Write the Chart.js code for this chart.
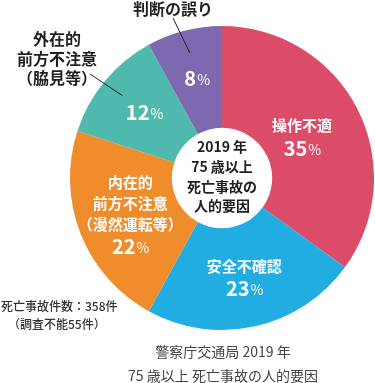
<!DOCTYPE html>
<html lang="ja">
<head>
<meta charset="utf-8">
<style>
  html, body { margin: 0; padding: 0; background: #fff; }
  #wrap { width: 375px; height: 383px; }
</style>
</head>
<body>
<div id="wrap"><canvas id="factorChart" width="375" height="383"></canvas></div>
<script src="https://cdn.jsdelivr.net/npm/chart.js@4/dist/chart.umd.min.js"></script>
<script>
// 2019年 75歳以上 死亡事故の人的要因（警察庁交通局）
const categories = ['操作不適', '安全不確認', '内在的前方不注意（漫然運転等）', '外在的前方不注意（脇見等）', '判断の誤り'];
const shares = [35, 23, 22, 12, 8];
const sliceColors = ['#dc4c69', '#22ade2', '#ef8d2c', '#50b9ae', '#7c69b0'];

// text drawn inside each slice (above the percentage)
const insideLines = [['操作不適'], ['安全不確認'], ['内在的', '前方不注意', '（漫然運転等）'], [], []];
// labels placed outside the pie with a leader line
const outsideLines = [[], [], [], ['外在的', '前方不注意', '（脇見等）'], ['判断の誤り']];
const centerLines = ['2019 年', '75 歳以上', '死亡事故の', '人的要因'];
const noteLines = ['死亡事故件数：358件', '（調査不能55件）'];
const captionLines = ['警察庁交通局 2019 年', '75 歳以上 死亡事故の人的要因'];

const JP = '"Noto Sans CJK JP", "Noto Sans", sans-serif';

const labelPlugin = {
    id: 'labelPlugin',
    afterDatasetsDraw(chart) {
        const ctx = chart.ctx;
        const arcs = chart.getDatasetMeta(0).data;
        const labelRadius = [0.59, 0.67, 0.65, 0.665, 0.67];
        const outsideAnchor = [null, null, null, { x: 57, y: 39, lx: 90, ly: 74 }, { x: 173, y: 9, lx: 173, ly: 18 }];

        ctx.save();
        ctx.textAlign = 'center';
        ctx.textBaseline = 'middle';

        arcs.forEach((arc, i) => {
            const p = arc.getProps(['x', 'y', 'startAngle', 'endAngle', 'outerRadius'], true);
            const mid = (p.startAngle + p.endAngle) / 2;
            const r = p.outerRadius * labelRadius[i];
            const cx = p.x + Math.cos(mid) * r;
            const cy = p.y + Math.sin(mid) * r;

            const lines = insideLines[i];
            const lineH = 21;
            const blockH = lines.length * lineH + 2;
            let y = cy - blockH / 2;
            ctx.fillStyle = '#fff';
            ctx.font = 'bold 15px ' + JP;
            lines.forEach(t => {
                ctx.fillText(t, cx, y);
                y += lineH;
            });
            if (lines.length) y += 2;

            // percentage: big digits, smaller %
            const num = String(shares[i]);
            ctx.font = 'bold 20px ' + JP;
            const wNum = ctx.measureText(num).width;
            ctx.font = '14px ' + JP;
            const wPct = ctx.measureText('%').width;
            const left = cx - (wNum + wPct) / 2;
            ctx.textAlign = 'left';
            ctx.font = 'bold 20px ' + JP;
            ctx.fillText(num, left, y);
            ctx.font = '14px ' + JP;
            ctx.fillText('%', left + wNum + 1, y + 1);
            ctx.textAlign = 'center';

            // outside label + leader line
            const a = outsideAnchor[i];
            if (a) {
                ctx.fillStyle = '#231f20';
                ctx.font = 'bold 16px ' + JP;
                outsideLines[i].forEach((t, k) => ctx.fillText(t, a.x, a.y + k * 19.5));
                const er = p.outerRadius * 0.85;
                ctx.strokeStyle = '#231f20';
                ctx.lineWidth = 1;
                ctx.beginPath();
                ctx.moveTo(a.lx, a.ly);
                ctx.lineTo(p.x + Math.cos(mid) * er, p.y + Math.sin(mid) * er);
                ctx.stroke();
            }
        });

        // centre text
        const c = arcs[0];
        ctx.fillStyle = '#231f20';
        ctx.font = 'bold 14px ' + JP;
        centerLines.forEach((t, k) => ctx.fillText(t, c.x, c.y - 31 + k * 19.7));

        // note at bottom left
        ctx.fillStyle = '#333';
        ctx.font = '500 12px ' + JP;
        ctx.textAlign = 'left';
        ctx.fillText(noteLines[0], 1, 306);
        ctx.fillText(noteLines[1], 8, 324);

        // caption
        ctx.textAlign = 'center';
        ctx.fillStyle = '#444';
        ctx.font = '14px ' + JP;
        captionLines.forEach((t, k) => ctx.fillText(t, 223, 352 + k * 24));
        ctx.restore();
    }
};

new Chart(document.getElementById('factorChart').getContext('2d'), {
    type: 'doughnut',
    data: {
        labels: categories,
        datasets: [{
            data: shares,
            backgroundColor: sliceColors,
            borderWidth: 0
        }]
    },
    options: {
        responsive: false,
        devicePixelRatio: 1,
        animation: false,
        cutout: '33%',
        layout: { padding: { left: 70, right: 1, top: 26, bottom: 53 } },
        plugins: {
            legend: { display: false },
            tooltip: { enabled: false }
        }
    },
    plugins: [labelPlugin]
});
</script>
</body>
</html>
